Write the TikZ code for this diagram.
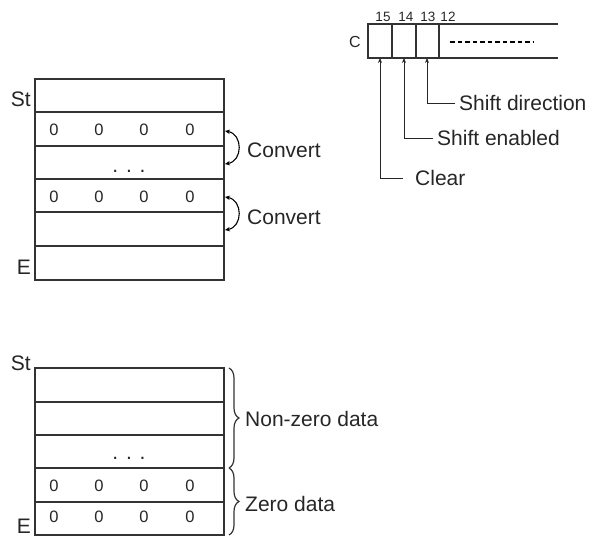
\documentclass[tikz,border=0pt]{standalone}
\usepackage{fontspec}
\setmainfont{Liberation Sans}
\usetikzlibrary{arrows.meta,decorations.pathreplacing}

\begin{document}
\begin{tikzpicture}[x=1pt, y=-1pt,
          lab/.style={font=\fontsize{21}{23}\selectfont, text=black!85, inner sep=0pt},
          zlab/.style={font=\fontsize{16.5}{18}\selectfont, text=black!85, inner sep=0pt},
          bitlab/.style={font=\fontsize{13.5}{15}\selectfont, text=black!85, inner sep=0pt},
          tbl/.style={line width=1.1pt, black!80},
          cvt/.style={{Stealth[length=5pt,width=4.5pt]}-{Stealth[length=5pt,width=4.5pt]}, line width=1.1pt},
          ptr/.style={-{Stealth[length=5pt,width=4pt]}, line width=0.9pt, black!85},
          brc/.style={decorate, decoration={brace, amplitude=10pt}, line width=1.2pt, black!80},
          dotln/.style={line width=1.8pt, dash pattern=on 4.5pt off 3pt}
        ]
        \useasboundingbox (0,0) rectangle (590,537);

        % upper table: St ... E, six rows
        \draw[tbl] (35,79) rectangle (224,280);
        \foreach \y in {112,146,179,212,246}
          \draw[tbl] (35,\y) -- (224,\y);
        \node[lab, anchor=east] (st1) at (31,99) {St};
        \node[lab, anchor=east] (e1) at (31,267) {E};
        \foreach \x [count=\i] in {54,99,144,190} {
          \node[zlab] (za\i) at (\x,130) {0};
          \node[zlab] (zb\i) at (\x,197) {0};
        }
        \node[lab] (dt1) at (129,171) {. . .};

        % conversion arcs on the right edge
        \coordinate (cv1a) at (225,131);
        \coordinate (cv1b) at (225,164);
        \coordinate (cv2a) at (225,197);
        \coordinate (cv2b) at (225,230);
        \draw[cvt] (cv1a) .. controls (243,134) and (243,161) .. (cv1b);
        \draw[cvt] (cv2a) .. controls (243,200) and (243,227) .. (cv2b);
        \node[lab, anchor=west] (cv1) at (247,150) {Convert};
        \node[lab, anchor=west] (cv2) at (247,217) {Convert};

        % lower table: non-zero data first, zero data last
        \draw[tbl] (35,368) rectangle (224,535);
        \foreach \y in {402,435,468,502}
          \draw[tbl] (35,\y) -- (224,\y);
        \node[lab, anchor=east] (st2) at (31,363) {St};
        \node[lab, anchor=east] (e2) at (31,526) {E};
        \foreach \x [count=\i] in {54,99,144,190} {
          \node[zlab] (zc\i) at (\x,486) {0};
          \node[zlab] (zd\i) at (\x,517) {0};
        }
        \node[lab] (dt2) at (129,458) {. . .};

        \coordinate (bra) at (229,368);
        \coordinate (brb) at (229,468);
        \coordinate (brc) at (229,535);
        \draw[brc] (bra) -- (brb);
        \draw[brc] (brb) -- (brc);
        \node[lab, anchor=west] (nzd) at (245,419) {Non-zero data};
        \node[lab, anchor=west] (zd) at (245,504) {Zero data};

        % control word C, bits 15..12
        \node[lab, font=\fontsize{16}{18}\selectfont, anchor=east] (creg) at (361,42) {C};
        \draw[tbl] (558,24) -- (368,24) -- (368,58) -- (558,58);
        \foreach \x in {392,416,439}
          \draw[tbl] (\x,24) -- (\x,58);
        \draw[dotln] (450,42) -- (533,42);
        \node[bitlab] (n15) at (383,17) {15};
        \node[bitlab] (n14) at (406,17) {14};
        \node[bitlab] (n13) at (428,17) {13};
        \node[bitlab] (n12) at (448,17) {12};

        \coordinate (b15) at (380,58);
        \coordinate (b14) at (404,58);
        \coordinate (b13) at (427,58);
        \node[lab, anchor=west] (sdir) at (459,103) {Shift direction};
        \node[lab, anchor=west] (sen) at (437,138) {Shift enabled};
        \node[lab, anchor=west] (clr) at (415,178) {Clear};
        \draw[ptr] ([xshift=-4pt]sdir.west) -| (b13);
        \draw[ptr] ([xshift=-4pt]sen.west) -| (b14);
        \draw[ptr] ([xshift=-12pt]clr.west) -| (b15);
      \end{tikzpicture}
\end{document}
